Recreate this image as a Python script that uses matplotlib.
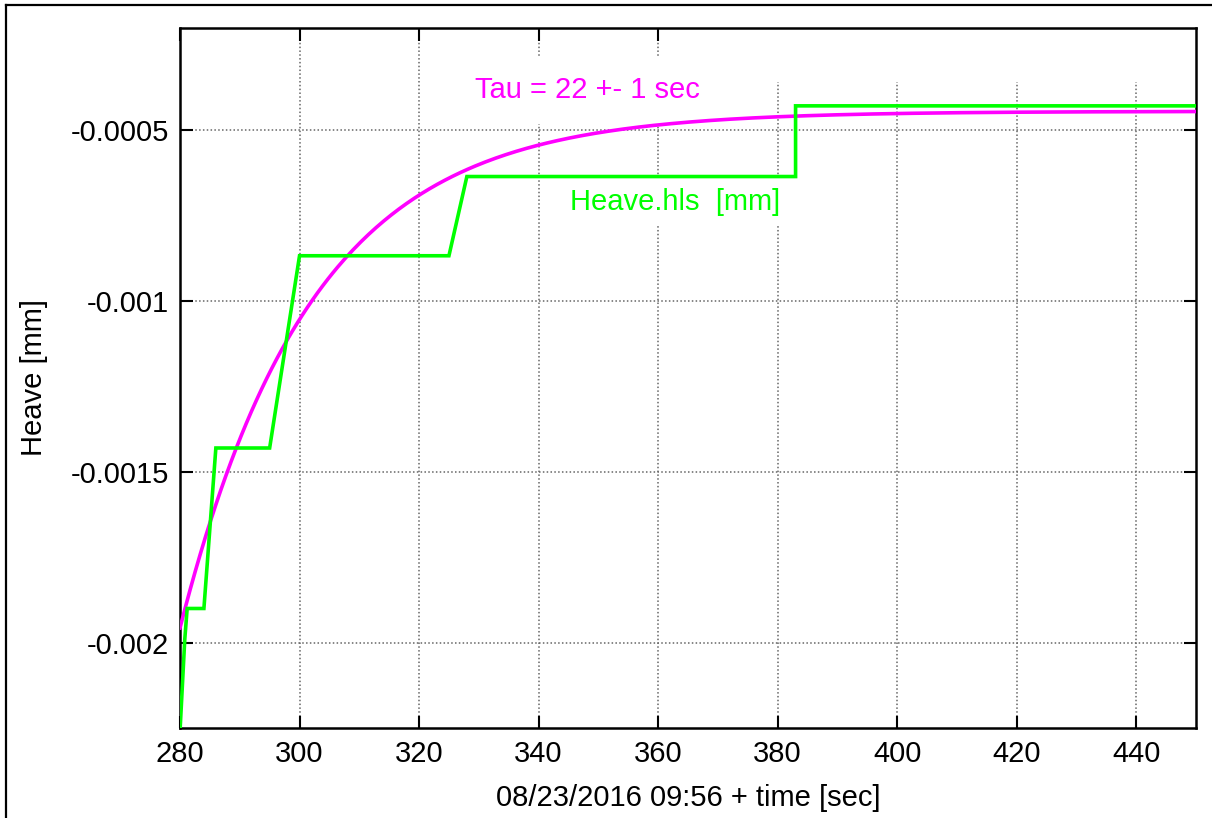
import matplotlib
matplotlib.use("Agg")

import matplotlib.pyplot as plt
from matplotlib.patches import Rectangle
from matplotlib.ticker import FormatStrFormatter
import numpy as np

# measured step data (Heave.hls)
heave_t = [280.0, 280.8, 281.2, 284.0, 286.0, 295.0, 300.0, 325.0, 328.0, 383.0, 383.0, 450.0]
heave_v = [-0.00226, -0.00199, -0.0019, -0.0019, -0.00143, -0.00143, -0.000867, -0.000867,
           -0.000635, -0.000635, -0.000428, -0.000428]

# exponential fit parameters
tau = 22.0
fit_t0 = 280.0
fit_inf = -0.000444
fit_amp = -0.001513

x_ticks = [280, 300, 320, 340, 360, 380, 400, 420, 440]
y_ticks = [-0.002, -0.0015, -0.001, -0.0005]

GREEN = "#00ff00"
MAGENTA = "#ff00ff"
FS = 21

plt.rcParams["font.family"] = ["Liberation Sans", "DejaVu Sans"]

fig = plt.figure(figsize=(12.12, 8.18), dpi=100)
ax = fig.add_axes([180 / 1212, 1 - 728 / 818, (1196 - 180) / 1212, (728 - 28) / 818])

# outer frame (left and top edges only visible in the source)
fig.add_artist(plt.Line2D([6 / 1212, 6 / 1212], [0, 1 - 5 / 818], color="black", lw=1.6))
fig.add_artist(plt.Line2D([6 / 1212, 1], [1 - 5 / 818, 1 - 5 / 818], color="black", lw=1.6))

# fit curve
t_fit = np.linspace(fit_t0, 450, 400)
v_fit = fit_inf + fit_amp * np.exp(-(t_fit - fit_t0) / tau)
ax.plot(t_fit, v_fit, color=MAGENTA, lw=2.6, zorder=3)

ax.plot(heave_t, heave_v, color=GREEN, lw=2.6, zorder=3, solid_joinstyle="miter")

ax.set_xlim(280, 450)
ax.set_ylim(-0.00225, -0.0002)
ax.set_xticks(x_ticks)
ax.set_yticks(y_ticks)
ax.yaxis.set_major_formatter(FormatStrFormatter("%g"))

ax.grid(True, color="#666666", linestyle=(0, (1, 1.5)), lw=1.1)
ax.set_axisbelow(True)
ax.tick_params(direction="in", length=9, width=1.5, top=True, right=True,
               labelsize=FS, colors="black")
ax.tick_params(axis="y", pad=8)
ax.tick_params(axis="x", pad=9)
for s in ax.spines.values():
    s.set_linewidth(1.8)

# blank strip where the key sits in the original
ax.add_patch(Rectangle((372, -0.000359), 80, 0.0002, facecolor="white",
                       edgecolor="none", zorder=1.5))

ax.text(329.3, -0.000383, "Tau = 22 +- 1 sec", color=MAGENTA, fontsize=FS,
        va="center", ha="left", zorder=2.5,
        bbox=dict(facecolor="white", edgecolor="none", pad=14))
ax.text(345.2, -0.000711, "Heave.hls  [mm]", color=GREEN, fontsize=FS,
        va="center", ha="left", zorder=2.5,
        bbox=dict(facecolor="white", edgecolor="none", pad=6))

ax.set_xlabel("08/23/2016 09:56 + time [sec]", fontsize=FS, labelpad=11)
ax.set_ylabel("Heave [mm]", fontsize=FS, labelpad=16)

plt.savefig("out.png", dpi=100)
